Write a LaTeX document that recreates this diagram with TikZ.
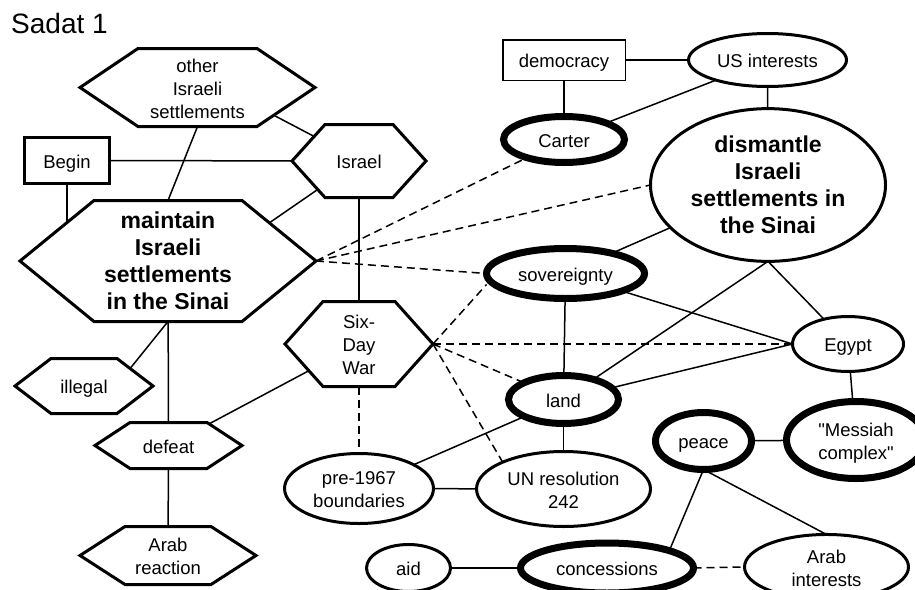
\documentclass[tikz,border=0pt]{standalone}
\usepackage{fontspec}
\setmainfont{Liberation Sans}[Ligatures=TeXOff]
\usetikzlibrary{shapes.geometric}
\pgfdeclarelayer{background}
\pgfsetlayers{background,main}
\newcommand\nstrut{\rule[-4pt]{0pt}{23pt}}
\newcommand\bstrut{\rule[-6pt]{0pt}{27pt}}
\tikzset{
  conn/.style={line width=1.5pt},
  dconn/.style={line width=1.5pt, dash pattern=on 8pt off 5pt},
  hexline/.style={line width=3pt, fill=white, line join=miter},
  txt/.style={font=\fontsize{18.5}{23}\selectfont, align=center,
    execute at begin node=\nstrut, execute at end node=\nstrut},
  btxt/.style={font=\fontsize{23}{27}\selectfont\bfseries, align=center,
    execute at begin node=\bstrut, execute at end node=\bstrut},
  ell/.style={ellipse, draw, fill=white, line width=3pt, inner sep=0pt, outer sep=0pt, txt},
  heavy/.style={line width=7pt},
  boxnode/.style={rectangle, draw, fill=white, inner sep=0pt, outer sep=0pt, txt},
}
% name, x, y, half width, half height, tip depth, text style, text
\newcommand\hexnode[8]{%
  \draw[hexline] ({#2-#4},{-#3}) -- ({#2-#4+#6},{-#3+#5}) -- ({#2+#4-#6},{-#3+#5})
     -- ({#2+#4},{-#3}) -- ({#2+#4-#6},{-#3-#5}) -- ({#2-#4+#6},{-#3-#5}) -- cycle;
  \node[#7, minimum width=2*#4pt, minimum height=2*#5pt, inner sep=0pt, outer sep=0pt] (#1) at (#2,-#3) {#8};
}
\begin{document}
\begin{tikzpicture}[x=1pt, y=1pt]
\useasboundingbox (0,0) rectangle (915,-589);

\node[font=\fontsize{28}{32}\selectfont, anchor=base west, inner sep=0pt] (title) at (11,-33) {Sadat 1};

% hexagons
\hexnode{other}{197.5}{87.5}{117.5}{39}{58}{txt}{\nstrut other\\Israeli\\settlements}
\hexnode{maintain}{168}{261}{148}{60.5}{74}{btxt}{\bstrut maintain\\Israeli\\settlements\\in the Sinai}
\hexnode{Israel}{359}{161}{67}{36.5}{33}{txt}{Israel}
\hexnode{SixDay}{359}{344}{74}{42.5}{38}{txt}{\nstrut Six-\\Day\\War}
\hexnode{illegal}{84}{386}{69}{27.5}{36}{txt}{illegal}
\hexnode{defeat}{168.5}{445.5}{73.5}{23}{35}{txt}{defeat}
\hexnode{ArabR}{168}{555.5}{88}{29}{45}{txt}{\nstrut Arab\\reaction}

% boxes
\node[boxnode, line width=3pt, minimum width=85pt, minimum height=46pt] (Begin) at (67,-160.5) {Begin};
\node[boxnode, line width=1.5pt, minimum width=122.5pt, minimum height=40.5pt] (democracy) at (564,-60) {democracy};

% ellipses
\node[ell, heavy, minimum width=121pt, minimum height=46pt] (Carter) at (564,-139.5) {Carter};
\node[ell, minimum width=158pt, minimum height=53pt] (US) at (767.5,-60) {US interests};
\node[ell, minimum width=235pt, minimum height=123pt, btxt] (dismantle) at (768,-185) {\bstrut dismantle\\Israeli\\settlements in\\the Sinai};
\node[ell, heavy, minimum width=158pt, minimum height=50pt] (sov) at (565.5,-273.5) {sovereignty};
\node[ell, heavy, minimum width=110pt, minimum height=48pt] (land) at (563.5,-399.5) {land};
\node[ell, minimum width=149pt, minimum height=70pt] (pre) at (359,-488.5) {\nstrut pre-1967\\boundaries};
\node[ell, minimum width=174pt, minimum height=75pt] (UN) at (563.5,-489) {\nstrut UN resolution\\242};
\node[ell, minimum width=84pt, minimum height=47pt] (aid) at (408.5,-568) {aid};
\node[ell, heavy, minimum width=173pt, minimum height=50pt] (conc) at (607,-568) {concessions};
\node[ell, minimum width=111pt, minimum height=55pt] (Egypt) at (848,-344) {Egypt};
\node[ell, heavy, minimum width=139pt, minimum height=77pt] (Messiah) at (856,-440) {\nstrut "Messiah\\complex"};
\node[ell, heavy, minimum width=96pt, minimum height=57pt] (peace) at (703.5,-441) {peace};
\node[ell, minimum width=164pt, minimum height=61pt] (ArabI) at (826.5,-567) {\nstrut Arab\\interests};

\begin{pgfonlayer}{background}
\draw[conn] ([shift={(52,-15)}]other.center) -- ([shift={(-19,11)}]Israel.center);
\draw[conn] (other.south) -- (maintain.north);
\draw[conn] (Begin.center) -- (Israel.center);
\draw[conn] (Begin.center) -- (Begin.center |- maintain.center);
\draw[conn] (Israel.center) -- ([shift={(62,11)}]maintain.center);
\draw[conn] (Israel.center) -- (SixDay.center);
\draw[conn] (maintain.south) -- ([xshift=32]illegal.center);
\draw[conn] (maintain.center) -- (defeat.center);
\draw[conn] (defeat.center) -- (SixDay.center);
\draw[conn] (defeat.center) -- (ArabR.center);
\draw[dconn] (SixDay.south) -- (pre.north);
\draw[dconn] (maintain.east) -- (Carter);
\draw[dconn] (maintain.east) -- (dismantle.west);
\draw[dconn] (maintain.east) -- (sov.west);
\draw[dconn] (SixDay.east) -- ([yshift=-11]sov.west);
\draw[dconn] (SixDay.east) -- (Egypt.west);
\draw[dconn] (SixDay.east) -- (land);
\draw[dconn] (SixDay.east) -- ([xshift=-45]UN.center);
\draw[conn] (Carter) -- (democracy);
\draw[conn] (democracy) -- (US);
\draw[conn] (Carter) -- (US);
\draw[conn] (US) -- (dismantle);
\draw[conn] (dismantle) -- (sov);
\draw[conn] (dismantle.south) -- (land);
\draw[conn] (dismantle.south) -- (Egypt);
\draw[conn] (sov) -- (Egypt.west);
\draw[conn] (sov) -- (land);
\draw[conn] (land) -- (Egypt.west);
\draw[conn] (Egypt) -- (Messiah);
\draw[conn] (peace) -- (Messiah);
\draw[conn] (land) -- (UN);
\draw[conn] (land) -- (pre);
\draw[conn] (pre) -- (UN);
\draw[conn] (aid) -- (conc);
\draw[conn] (peace.south) -- ([xshift=55]conc.center);
\draw[conn] (peace.south) -- (ArabI.north);
\draw[dconn] (conc.east) -- (ArabI.west);
\end{pgfonlayer}
\end{tikzpicture}
\end{document}
